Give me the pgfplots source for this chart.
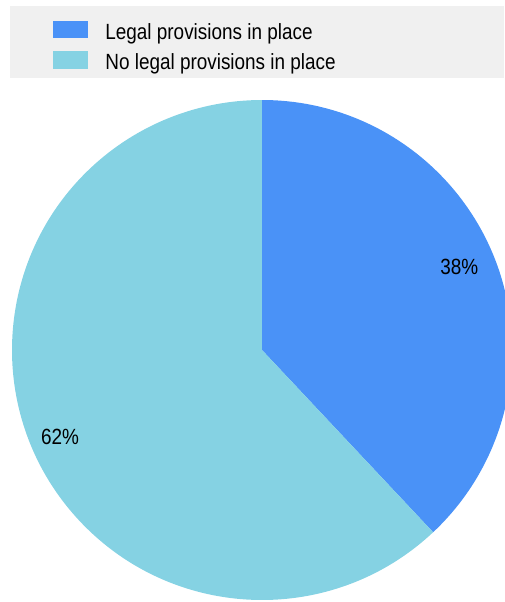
\documentclass[border=0pt]{standalone}
\usepackage{pgfplots}
\usepackage{pgfplotstable}
\pgfplotsset{compat=1.18}
\usepackage{fontspec}
\setmainfont{Liberation Sans}[FakeStretch=0.86]

\definecolor{legalblue}{RGB}{74,146,247}
\definecolor{nolegalcyan}{RGB}{133,210,227}
\definecolor{legendbg}{RGB}{240,240,240}

% share of countries, in percent
\pgfplotstableread{
share
38
62
}\piedata

\begin{document}
\begin{tikzpicture}
\pgfplotstablegetelem{0}{share}\of\piedata \let\sA\pgfplotsretval
\pgfplotstablegetelem{1}{share}\of\piedata \let\sB\pgfplotsretval
\pgfmathsetmacro\angA{90-3.6*\sA}
\pgfmathsetmacro\angB{\angA-3.6*\sB}
\pgfmathsetmacro\midA{90-1.8*\sA+1.2}
\pgfmathsetmacro\midB{\angA-1.8*\sB+1.7}
\begin{axis}[
    name=ax,
    hide axis,
    scale only axis,
    width=252.5pt, height=301pt,
    xmin=0, xmax=505, ymin=0, ymax=602,
    clip=true,
]
% legend background
\fill[legendbg] (axis cs:10,524) rectangle (axis cs:504,596);
% slices
\fill[legalblue] (axis cs:262,252) -- ++(90:125pt)
    arc[start angle=90, end angle=\angA, radius=125pt] -- cycle;
\fill[nolegalcyan] (axis cs:262,252) -- ++(\angA:125pt)
    arc[start angle=\angA, end angle=\angB, radius=125pt] -- cycle;
% slice labels
\node[inner sep=0, font=\fontsize{11}{13}\selectfont, shift={(\midA:107pt)}]
    at (axis cs:262,252) {\sA\%};
\node[inner sep=0, font=\fontsize{11}{13}\selectfont, shift={(\midB:110pt)}]
    at (axis cs:262,252) {\sB\%};
% legend
\fill[legalblue] (axis cs:53,581) rectangle (axis cs:88,564);
\node[inner sep=0, anchor=base west, font=\fontsize{11}{13}\selectfont]
    at (axis cs:105,563) {Legal provisions in place};
\fill[nolegalcyan] (axis cs:53,551) rectangle (axis cs:88,533);
\node[inner sep=0, anchor=base west, font=\fontsize{11}{13}\selectfont]
    at (axis cs:105,533) {No legal provisions in place};
\end{axis}
\pgfresetboundingbox
\useasboundingbox (ax.south west) rectangle (ax.north east);
\end{tikzpicture}
\end{document}
